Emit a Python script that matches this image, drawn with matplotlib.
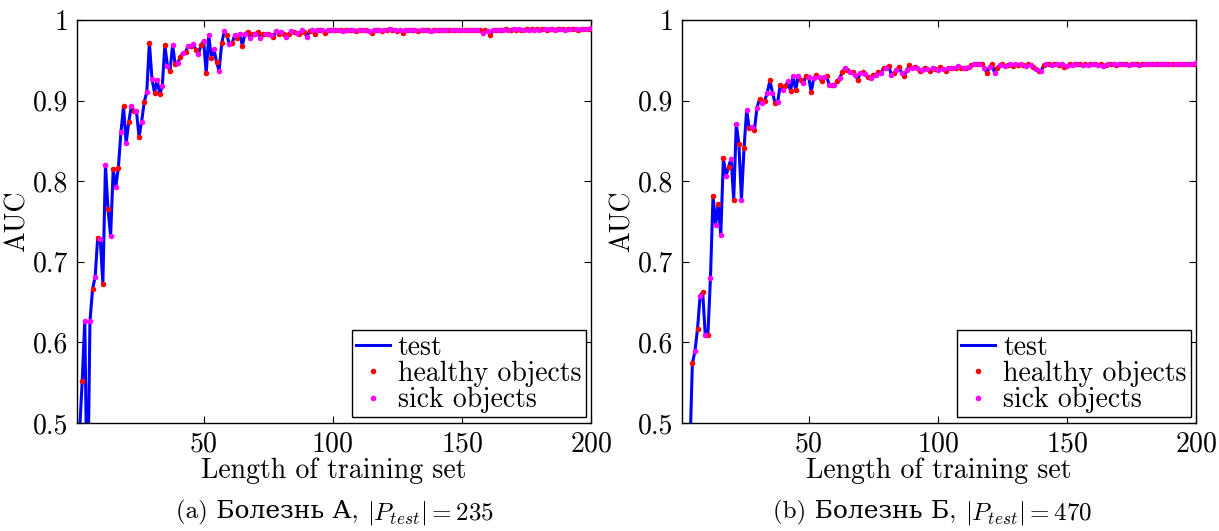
import numpy as np
import matplotlib
matplotlib.use("Agg")
import matplotlib.pyplot as plt
from matplotlib.ticker import FuncFormatter

plt.rcParams['font.family'] = ['cmr10', 'DejaVu Serif']
plt.rcParams['mathtext.fontset'] = 'cm'
plt.rcParams['axes.formatter.use_mathtext'] = True
plt.rcParams['axes.unicode_minus'] = False

#Training set length (x axis)
train_len = np.arange(1, 201)

#AUC on test set, disease A
auc_a = [0.45, 0.49, 0.552, 0.627, 0.38, 0.626, 0.666, 0.681, 0.730, 0.728,
         0.673, 0.820, 0.765, 0.732, 0.815, 0.793, 0.817, 0.861, 0.893, 0.847,
         0.873, 0.893, 0.887, 0.887, 0.855, 0.874, 0.898, 0.911, 0.972, 0.927,
         0.910, 0.926, 0.908, 0.918, 0.969, 0.943, 0.937, 0.969, 0.945, 0.947,
         0.954, 0.959, 0.960, 0.968, 0.968, 0.970, 0.963, 0.958, 0.969, 0.974,
         0.934, 0.981, 0.953, 0.964, 0.948, 0.937, 0.971, 0.986, 0.981, 0.970,
         0.971, 0.981, 0.978, 0.983, 0.968, 0.983, 0.985, 0.978, 0.983, 0.983,
         0.985, 0.978, 0.983, 0.983, 0.983, 0.982, 0.979, 0.986, 0.983, 0.985,
         0.983, 0.979, 0.983, 0.986, 0.985, 0.984, 0.983, 0.987, 0.985, 0.979,
         0.986, 0.987, 0.983, 0.987, 0.988, 0.987, 0.984, 0.988, 0.987, 0.988,
         0.987, 0.988, 0.987, 0.986, 0.988, 0.987, 0.988, 0.987, 0.986, 0.987,
         0.988, 0.987, 0.987, 0.986, 0.984, 0.987, 0.988, 0.987, 0.986, 0.987,
         0.988, 0.989, 0.988, 0.987, 0.986, 0.987, 0.984, 0.987, 0.988, 0.987,
         0.988, 0.987, 0.986, 0.987, 0.988, 0.987, 0.987, 0.986, 0.988, 0.988,
         0.987, 0.988, 0.988, 0.987, 0.988, 0.987, 0.988, 0.988, 0.987, 0.988,
         0.988, 0.987, 0.988, 0.988, 0.987, 0.988, 0.987, 0.984, 0.987, 0.986,
         0.982, 0.987, 0.988, 0.987, 0.988, 0.988, 0.989, 0.988, 0.988, 0.989,
         0.988, 0.989, 0.988, 0.988, 0.989, 0.988, 0.989, 0.988, 0.989, 0.988,
         0.989, 0.989, 0.988, 0.989, 0.989, 0.988, 0.989, 0.989, 0.989, 0.988,
         0.989, 0.989, 0.989, 0.989, 0.988, 0.989, 0.989, 0.989, 0.989, 0.990]

#AUC on test set, disease B
auc_b = [0.44, 0.45, 0.45, 0.46, 0.574, 0.589, 0.617, 0.658, 0.662, 0.609,
         0.609, 0.680, 0.782, 0.746, 0.772, 0.733, 0.829, 0.806, 0.818, 0.828,
         0.777, 0.871, 0.846, 0.777, 0.841, 0.888, 0.866, 0.867, 0.863, 0.891,
         0.902, 0.897, 0.900, 0.910, 0.925, 0.910, 0.897, 0.898, 0.919, 0.913,
         0.918, 0.924, 0.912, 0.930, 0.913, 0.931, 0.925, 0.922, 0.931, 0.929,
         0.911, 0.928, 0.932, 0.929, 0.924, 0.929, 0.930, 0.919, 0.919, 0.919,
         0.924, 0.928, 0.935, 0.940, 0.938, 0.936, 0.935, 0.932, 0.926, 0.934,
         0.935, 0.933, 0.929, 0.928, 0.932, 0.932, 0.935, 0.934, 0.941, 0.941,
         0.943, 0.932, 0.934, 0.938, 0.942, 0.934, 0.931, 0.938, 0.944, 0.940,
         0.942, 0.940, 0.937, 0.938, 0.941, 0.939, 0.937, 0.941, 0.939, 0.938,
         0.942, 0.939, 0.937, 0.940, 0.940, 0.940, 0.941, 0.943, 0.941, 0.940,
         0.941, 0.942, 0.944, 0.945, 0.945, 0.946, 0.945, 0.941, 0.934, 0.942,
         0.945, 0.934, 0.941, 0.944, 0.945, 0.943, 0.944, 0.945, 0.943, 0.945,
         0.944, 0.945, 0.944, 0.943, 0.945, 0.944, 0.942, 0.939, 0.937, 0.937,
         0.944, 0.946, 0.945, 0.944, 0.946, 0.945, 0.944, 0.945, 0.942, 0.943,
         0.945, 0.944, 0.945, 0.946, 0.945, 0.944, 0.945, 0.944, 0.945, 0.945,
         0.946, 0.944, 0.945, 0.943, 0.944, 0.945, 0.946, 0.945, 0.944, 0.945,
         0.946, 0.945, 0.945, 0.944, 0.945, 0.946, 0.945, 0.944, 0.945, 0.946,
         0.945, 0.946, 0.946, 0.945, 0.946, 0.946, 0.946, 0.945, 0.946, 0.946,
         0.946, 0.946, 0.946, 0.945, 0.946, 0.946, 0.946, 0.945, 0.946, 0.947]

#Object added at each step: healthy on odd steps, sick on even steps
healthy_step = np.arange(1, 201, 2)
sick_step = np.arange(2, 201, 2)

#Sub-figure captions: plain text part and math part
caption_text = [u'(a) Болезнь А, ', u'(b) Болезнь Б, ']
caption_math = [r'$|P_{test}| = 235$', r'$|P_{test}| = 470$']

fig = plt.figure(figsize=(12.19, 5.31), dpi=100)
axes = [fig.add_axes([0.0632, 0.2034, 0.4217, 0.7589]),
        fig.add_axes([0.5595, 0.2034, 0.4218, 0.7589])]
caption_x = [0.275, 0.765]

captions = []
for ax, auc, ctext, cmath, cx in zip(axes, [auc_a, auc_b], caption_text,
                                     caption_math, caption_x):
    auc = np.array(auc)
    ax.plot(train_len, auc, color='#0000ff', lw=2.2, label='test', zorder=2)
    ax.plot(healthy_step, auc[healthy_step - 1], ls='none', marker='o', ms=4,
            mec='none', color='#ff0000', label='healthy objects', zorder=3)
    ax.plot(sick_step, auc[sick_step - 1], ls='none', marker='o', ms=4,
            mec='none', color='#ff00ff', label='sick objects', zorder=3)

    ax.set_xlim(1, 200)
    ax.set_ylim(0.5, 1.0)
    ax.set_xticks([50, 100, 150, 200])
    ax.set_yticks([0.5, 0.6, 0.7, 0.8, 0.9, 1.0])
    ax.yaxis.set_major_formatter(FuncFormatter(lambda v, p: '%g' % v))
    ax.tick_params(direction='in', top=True, right=True, length=5, width=0.8,
                   labelsize=20, pad=6)
    for s in ax.spines.values():
        s.set_linewidth(1.0)

    ax.set_xlabel('Length of training set', fontsize=20, labelpad=0)
    ax.set_ylabel('AUC', fontsize=20, labelpad=2)

    leg = ax.legend(loc='lower right', fontsize=20, fancybox=False,
                    framealpha=1, edgecolor='black', borderpad=0.15,
                    labelspacing=0.0, handlelength=1.2, handletextpad=0.3,
                    borderaxespad=0.2)
    leg.get_frame().set_linewidth(1.0)

    t1 = fig.text(cx, 0.034, ctext, ha='right', va='center', fontsize=18,
                  family=['cmr10', 'DejaVu Serif'])
    t2 = fig.text(cx, 0.034, cmath, ha='left', va='center', fontsize=18)
    captions.append((t1, t2, cx))

#Center each caption pair under its axes
fig.canvas.draw()
r = fig.canvas.get_renderer()
for t1, t2, cx in captions:
    w1 = t1.get_window_extent(r).width / fig.bbox.width
    w2 = t2.get_window_extent(r).width / fig.bbox.width
    shift = (w1 - w2) / 2
    t1.set_x(cx + shift)
    t2.set_x(cx + shift)

fig.savefig('out.png', dpi=100)
